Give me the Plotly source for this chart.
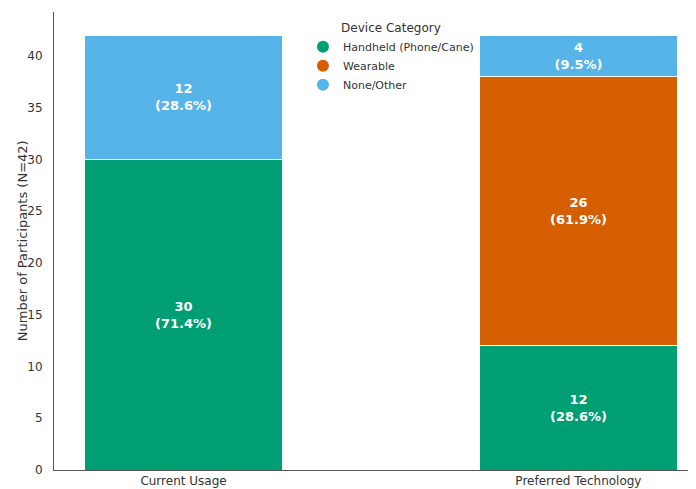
import plotly.graph_objects as go

groups = ["Current Usage", "Preferred Technology"]
categories = ["Handheld (Phone/Cane)", "Wearable", "None/Other"]
handheld = [30, 12]
wearable = [0, 26]
none_other = [12, 4]
total_n = 42
colors = ["#009E73", "#D55E00", "#56B4E9"]
series = [handheld, wearable, none_other]

fig = go.Figure()
for name, vals, col in zip(categories, series, colors):
    texts = [f"<b>{v}<br>({v / total_n * 100:.1f}%)</b>" if v > 0 else "" for v in vals]
    fig.add_trace(go.Bar(
        x=[0, 1], y=vals, name=name, width=0.5,
        marker=dict(color=col, line=dict(color="white", width=1)),
        text=texts, textposition="inside", insidetextanchor="middle",
        textfont=dict(color="white", size=13, family="DejaVu Sans"),
        showlegend=False, hoverinfo="skip",
    ))
for name, col in zip(categories, colors):
    fig.add_trace(go.Scatter(
        x=[None], y=[None], mode="markers", name=name,
        marker=dict(color=col, size=11, symbol="circle"),
        showlegend=True,
    ))

fig.update_layout(
    barmode="stack",
    width=696, height=489,
    margin=dict(l=46, r=0, t=4, b=27),
    plot_bgcolor="white", paper_bgcolor="white",
    font=dict(family="DejaVu Sans", size=11, color="#333333"),
    legend=dict(
        title=dict(text="Device Category", side="top center", font=dict(size=12, color="#333333")),
        x=0.383, y=0.99, xanchor="left", yanchor="top",
        bgcolor="rgba(255,255,255,0)", font=dict(size=11, color="#333333"),
        itemsizing="constant", tracegroupgap=0, traceorder="normal",
    ),
    xaxis=dict(
        range=[-0.328, 1.318], tickvals=[0, 1], ticktext=groups,
        showline=True, linecolor="#555555", linewidth=1, showgrid=False,
        ticks="", zeroline=False, tickfont=dict(size=12, color="#333333"),
        automargin=False, ticklabelstandoff=0,
    ),
    yaxis=dict(
        range=[0, 44.25], tickvals=[0, 5, 10, 15, 20, 25, 30, 35, 40],
        showline=True, linecolor="#555555", linewidth=1, showgrid=False,
        ticks="", zeroline=False, tickfont=dict(size=12, color="#333333"),
        automargin=False, ticklabelstandoff=8,
    ),
    annotations=[dict(
        text="Number of Participants (N=42)", textangle=-90,
        xref="paper", yref="paper", x=-0.049, y=0.5,
        xanchor="center", yanchor="middle", showarrow=False,
        font=dict(size=13, color="#333333"),
    )],
)

fig.write_html("out.html")
